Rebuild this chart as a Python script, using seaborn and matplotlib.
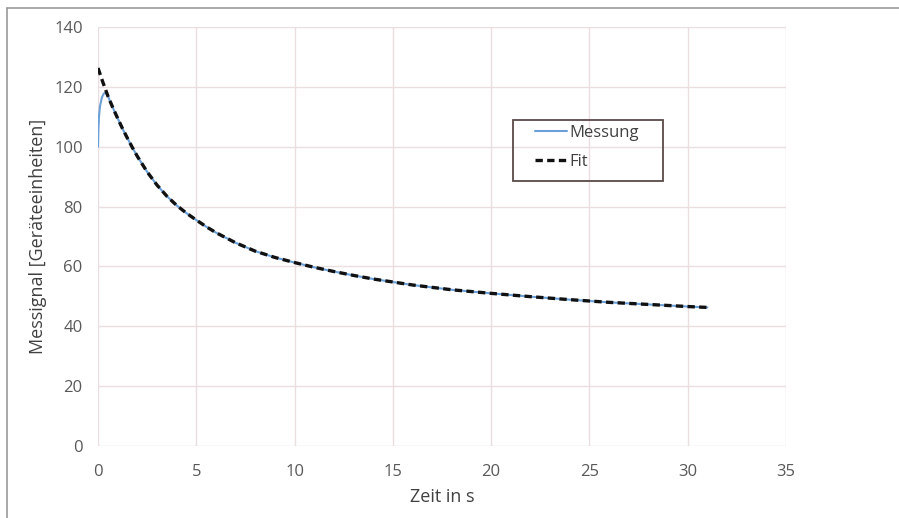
import numpy as np
import pandas as pd
import matplotlib
matplotlib.use('Agg')
import matplotlib.pyplot as plt
from matplotlib.lines import Line2D
from matplotlib.patches import Rectangle
import seaborn as sns

sns.set_style('white')
plt.rcParams['font.family'] = ['Open Sans', 'DejaVu Sans']

# values
fit_x = [0, 0.25, 0.5, 0.75, 1, 1.25, 1.5, 1.75, 2, 2.5, 3, 3.5, 4, 4.5, 5,
         5.5, 6, 7, 8, 9, 10, 11, 12, 13, 14, 15, 16, 18, 20, 22, 24, 26, 28,
         30, 31]
fit_y = [126.3, 121.5, 117.0, 113.1, 109.5, 106.0, 102.8, 99.7, 96.8, 91.6,
         87.2, 83.5, 80.4, 77.8, 75.5, 73.3, 71.3, 67.9, 65.1, 63.0, 61.3,
         59.7, 58.3, 57.0, 55.8, 54.8, 53.8, 52.2, 51.0, 49.9, 48.9, 48.0,
         47.3, 46.6, 46.3]

mess_x = [0, 0.02, 0.05, 0.1, 0.2, 0.3, 0.4, 0.5, 0.75, 1, 1.25, 1.5, 1.75,
          2, 2.5, 3, 3.5, 4, 4.5, 5, 5.5, 6, 7, 8, 9, 10, 11, 12, 13, 14, 15,
          16, 18, 20, 22, 24, 26, 28, 30, 31]
mess_y = [100.0, 106.0, 110.0, 113.5, 116.5, 117.8, 118.0, 117.0, 113.1,
          109.5, 106.0, 102.8, 99.7, 96.8, 91.6, 87.2, 83.5, 80.4, 77.8, 75.5,
          73.3, 71.3, 67.9, 65.1, 63.0, 61.3, 59.7, 58.3, 57.0, 55.8, 54.8,
          53.8, 52.2, 51.0, 49.9, 48.9, 48.0, 47.3, 46.6, 46.3]

x_ticks = [0, 5, 10, 15, 20, 25, 30, 35]
y_ticks = [0, 20, 40, 60, 80, 100, 120, 140]

df_fit = pd.DataFrame({'t': fit_x, 'y': fit_y})
df_mess = pd.DataFrame({'t': mess_x, 'y': mess_y})

W, H = 899, 518
fig = plt.figure(figsize=(W/100, H/100), dpi=100)
ax = fig.add_axes([98/W, 1-446/H, 688/W, 419/H])

blue = '#6a9fd8'
sns.lineplot(data=df_mess, x='t', y='y', ax=ax, color=blue, linewidth=1.5,
             legend=False)
sns.lineplot(data=df_fit, x='t', y='y', ax=ax, color='#111111', linewidth=2.4,
             legend=False)
ax.lines[-1].set_dashes((2.2, 1.3))

ax.set_xlim(0, 35)
ax.set_ylim(0, 140)
ax.set_xticks(x_ticks)
ax.set_yticks(y_ticks)
ax.grid(True, color='#eadede', linewidth=1.0)
for s in ax.spines.values():
    s.set_visible(False)
ax.tick_params(axis='both', length=0, labelsize=12, colors='#595959')
ax.tick_params(axis='y', pad=11)
ax.tick_params(axis='x', pad=13)

ax.set_xlabel('Zeit in s', fontsize=13, color='#404040', labelpad=6)
ax.set_ylabel('Messignal [Geräteeinheiten]', fontsize=13, color='#404040',
              labelpad=5)

handles = [Line2D([], [], color=blue, linewidth=1.5),
           Line2D([], [], color='#111111', linewidth=2.4, dashes=(2.2, 1.3))]
leg = ax.legend(handles, ['Messung', 'Fit'], loc='upper left',
                bbox_to_anchor=(535/W, 1-125/H), bbox_transform=fig.transFigure,
                frameon=False, fontsize=12, handlelength=1.9,
                handletextpad=0.15, labelspacing=0.75, borderpad=0,
                borderaxespad=0)
for t in leg.get_texts():
    t.set_color('#404040')

# legend box
fig.add_artist(Rectangle((513/W, 1-181/H), 150/W, 61/H, fill=False,
                         edgecolor='#5a4a48', linewidth=1.3,
                         transform=fig.transFigure))

# outer frame (left and top edges)
fig.add_artist(Line2D([7/W, 7/W], [0, 1-8/H], color='#9a9a9a', lw=1.2))
fig.add_artist(Line2D([7/W, 1], [1-8/H, 1-8/H], color='#9a9a9a', lw=1.2))

fig.savefig('out.png', dpi=100)
